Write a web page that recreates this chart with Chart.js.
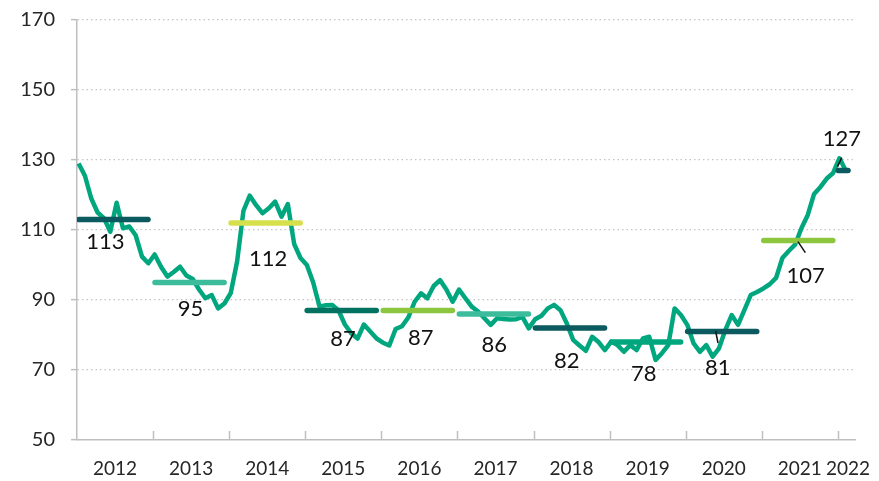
<!DOCTYPE html>
<html>
<head>
<meta charset="utf-8">
<script src="https://cdn.jsdelivr.net/npm/chart.js@4.4.0/dist/chart.umd.min.js"></script>
<style>
    html, body { margin: 0; padding: 0; background: #fff; }
    #wrap { width: 879px; height: 481px; }
</style>
</head>
<body>
<div id="wrap"><canvas id="chart" width="879" height="481"></canvas></div>
<script>
// monthly index values, Jan..Dec of each year (2022: Jan, Feb)
const v2012 = [129, 125.5, 119, 115, 113.4, 109.5, 117.8, 110.5, 111, 108.5, 102.4, 100.5];
const v2013 = [103, 99.5, 96.7, 98, 99.5, 97, 96, 93, 90.5, 91.4, 87.6, 89];
const v2014 = [92, 101, 115.5, 119.8, 117.1, 114.8, 116.2, 118.1, 113.8, 117.4, 106, 102];
const v2015 = [100, 95, 88.1, 88.5, 88.6, 87, 83, 80.5, 79, 83, 81, 79];
const v2016 = [77.8, 77, 81.7, 82.5, 85, 89.5, 91.9, 90.5, 94, 95.7, 93, 89.5];
const v2017 = [93, 90.5, 88.1, 86.7, 84.8, 82.9, 84.8, 84.6, 84.4, 84.5, 85.2, 81.9];
const v2018 = [84.5, 85.5, 87.6, 88.6, 87.1, 83.3, 78.6, 77, 75.5, 79.5, 78, 75.7];
const v2019 = [78.1, 77.1, 75.2, 77.1, 75.7, 79, 79.5, 72.9, 74.8, 77.1, 87.6, 85.7];
const v2020 = [82.9, 77.6, 75.2, 77.1, 73.8, 76.2, 81.4, 85.7, 82.9, 87.1, 91.4, 92.3];
const v2021 = [93.3, 94.5, 96.3, 102, 104, 105.8, 110.5, 114.3, 120.3, 122.3, 124.7, 126.3];
const v2022 = [130.5, 127];

const years = ['2012', '2013', '2014', '2015', '2016', '2017', '2018', '2019', '2020', '2021', '2022'];
const yearAverages = [113, 95, 112, 87, 87, 86, 82, 78, 81, 107, 127];
const yTicks = [50, 70, 90, 110, 130, 150, 170];

const monthly = [].concat(v2012, v2013, v2014, v2015, v2016, v2017, v2018, v2019, v2020, v2021, v2022);

// styling
const lineColor = '#00a67e';
const avgColors = ['#0b5a5f', '#3dbc9c', '#d5e04c', '#00725f', '#8cc63f', '#3dbc9c',
                   '#0b5a5f', '#00a67e', '#0b5a5f', '#8cc63f', '#0b5a5f'];
const axisGrey = '#bfbfbf';
const textColor = '#262626';

// where each year's average bar starts/ends, in months from Jan 2012
const segRange = k => k < 10 ? [k * 12 + 0.3, k * 12 + 11.2] : [120.05, 121.6];
// label offsets from the bar centre (px) and leader lines
const labelOffsets = [[-8, 21.5], [1, 25.5], [2.5, 34.5], [1.3, 27.8], [3, 26.2], [0.3, 30],
                      [-3.3, 31.5], [-2.4, 31], [-4.5, 35.2], [7.4, 34.5], [-1.3, -33]];
const leaders = { 8: [[-6.5, -0.5], [-4.2, 11.5]], 9: [[-0.3, 1.2], [7.1, 12.2]], 10: [[-5.7, -3.8], [-1.3, -12.8]] };

const linePoints = monthly.map((v, i) => ({ x: i + 0.25, y: v }));
const labelPos = years.map((y, k) => k < 10 ? k * 12 + 6 : 121.6);

const avgDatasets = yearAverages.map((v, k) => {
    const [a, b] = segRange(k);
    return {
        data: [{ x: a, y: v }, { x: b, y: v }],
        borderColor: avgColors[k],
        borderWidth: 5.5,
        borderCapStyle: 'round',
        pointRadius: 0,
        order: 1
    };
});

const annotate = {
    id: 'annotate',
    afterDatasetsDraw(chart) {
        const { ctx, chartArea } = chart;
        const x = chart.scales.x, y = chart.scales.y;
        ctx.save();

        // inside tick marks at the year boundaries
        ctx.strokeStyle = axisGrey;
        ctx.lineWidth = 1.5;
        for (let k = 1; k <= 10; k++) {
            const px = Math.round(x.getPixelForValue(k * 12)) + 0.5;
            ctx.beginPath();
            ctx.moveTo(px, chartArea.bottom);
            ctx.lineTo(px, chartArea.bottom - 9);
            ctx.stroke();
        }

        ctx.font = '22px Lato, "Open Sans", sans-serif';
        ctx.fillStyle = '#111';
        ctx.textAlign = 'center';
        ctx.textBaseline = 'alphabetic';
        yearAverages.forEach((v, k) => {
            const [a, b] = segRange(k);
            const cx = x.getPixelForValue((a + b) / 2);
            const cy = y.getPixelForValue(v);
            const [dx, dy] = labelOffsets[k];
            ctx.fillText(String(v), cx + dx, cy + dy + 8);
            if (leaders[k]) {
                const [p, q] = leaders[k];
                ctx.strokeStyle = '#111';
                ctx.lineWidth = 1.5;
                ctx.beginPath();
                ctx.moveTo(cx + p[0], cy + p[1]);
                ctx.lineTo(cx + q[0], cy + q[1]);
                ctx.stroke();
            }
        });
        ctx.restore();
    }
};

new Chart(document.getElementById('chart'), {
    type: 'line',
    data: {
        datasets: [
            ...avgDatasets,
            {
                data: linePoints,
                borderColor: lineColor,
                borderWidth: 4.5,
                borderJoinStyle: 'round',
                pointRadius: 0,
                tension: 0,
                order: 2
            }
        ]
    },
    options: {
        responsive: false,
        animation: false,
        devicePixelRatio: 1,
        layout: { padding: { top: 20, right: 24, bottom: 0, left: 0 } },
        plugins: { legend: { display: false }, tooltip: { enabled: false } },
        scales: {
            x: {
                type: 'linear',
                min: 0,
                max: 122.7,
                afterBuildTicks: s => { s.ticks = labelPos.map(v => ({ value: v })); },
                afterFit: s => { s.height = 41; s.paddingLeft = 0; s.paddingRight = 0; },
                ticks: {
                    callback: (v, i) => years[i],
                    autoSkip: false,
                    maxRotation: 0,
                    padding: 17,
                    color: textColor,
                    font: { family: 'Lato', size: 19 }
                },
                grid: { display: false, drawTicks: false },
                border: { display: true, color: axisGrey, width: 1.5 }
            },
            y: {
                min: yTicks[0],
                max: yTicks[yTicks.length - 1],
                afterBuildTicks: s => { s.ticks = yTicks.map(v => ({ value: v })); },
                afterFit: s => { s.width = 77; s.paddingTop = 0; s.paddingBottom = 0; },
                ticks: {
                    padding: 16,
                    color: textColor,
                    font: { family: 'Lato', size: 20 }
                },
                grid: {
                    color: c => c.tick && c.tick.value === yTicks[0] ? 'rgba(0,0,0,0)' : '#c4c4c4',
                    lineWidth: 1.25,
                    drawTicks: true,
                    tickLength: 6,
                    tickColor: axisGrey,
                    tickWidth: 1.5,
                    tickBorderDash: []
                },
                border: { display: true, color: axisGrey, width: 1.5, dash: [1.5, 3] }
            }
        }
    },
    plugins: [annotate]
});
</script>
</body>
</html>
